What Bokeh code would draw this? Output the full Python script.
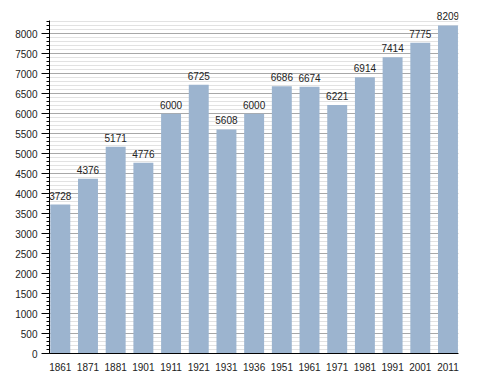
from bokeh.plotting import figure
from bokeh.models import ColumnDataSource, LabelSet, FixedTicker, Range1d
from bokeh.core.properties import value
from bokeh.embed import file_html
from bokeh.resources import INLINE

years = ["1861", "1871", "1881", "1901", "1911", "1921", "1931", "1936",
         "1951", "1961", "1971", "1981", "1991", "2001", "2011"]
population = [3728, 4376, 5171, 4776, 6000, 6725, 5608, 6000,
              6686, 6674, 6221, 6914, 7414, 7775, 8209]
y_major_ticks = list(range(0, 8001, 500))
y_minor_ticks = list(range(0, 8301, 100))
y_axis_top = 8333

idx = list(range(len(years)))
source = ColumnDataSource(dict(x=idx, year=years, pop=population,
                               label=[str(v) for v in population]))

p = figure(width=480, height=373, output_backend="svg", toolbar_location=None,
           x_range=Range1d(-0.39, len(years) - 1 + 0.38), y_range=Range1d(0, 8684),
           min_border_left=49, min_border_right=22, min_border_top=6, min_border_bottom=20)
p.outline_line_color = None
p.background_fill_color = "white"

p.vbar(x="x", top="pop", width=0.72, source=source, fill_color="#9cb4cf", line_color=None)

labels = LabelSet(x="x", y="pop", text="label", source=source, text_align="center",
                  text_baseline="alphabetic", y_offset=5, text_font_size="10px",
                  text_font=value("Liberation Sans"), text_color="#222222")
p.add_layout(labels)

# x axis
p.xaxis.ticker = FixedTicker(ticks=idx)
p.xaxis.major_label_overrides = {i: y for i, y in zip(idx, years)}
p.xaxis.major_tick_line_color = None
p.xaxis.minor_tick_line_color = None
p.xaxis.major_label_standoff = 3
p.xaxis.axis_line_color = "black"
p.xaxis.major_label_text_font = "Liberation Sans"
p.xaxis.major_label_text_font_size = "10px"
p.xaxis.major_label_text_color = "#222222"
p.xgrid.grid_line_color = None

# y axis
p.yaxis.ticker = FixedTicker(ticks=y_major_ticks, minor_ticks=y_minor_ticks)
p.yaxis.bounds = (0, y_axis_top)
p.yaxis.major_tick_out = 8
p.yaxis.major_tick_in = 0
p.yaxis.minor_tick_out = 3
p.yaxis.minor_tick_in = 0
p.yaxis.major_label_standoff = 4
p.yaxis.axis_line_color = "black"
p.yaxis.major_tick_line_color = "black"
p.yaxis.minor_tick_line_color = "black"
p.yaxis.major_label_text_font = "Liberation Sans"
p.yaxis.major_label_text_font_size = "10px"
p.yaxis.major_label_text_color = "#222222"
p.ygrid.grid_line_color = "#a8a8a8"
p.ygrid.minor_grid_line_color = "#e2e2e2"

open("out.html", "w").write(file_html(p, INLINE))
